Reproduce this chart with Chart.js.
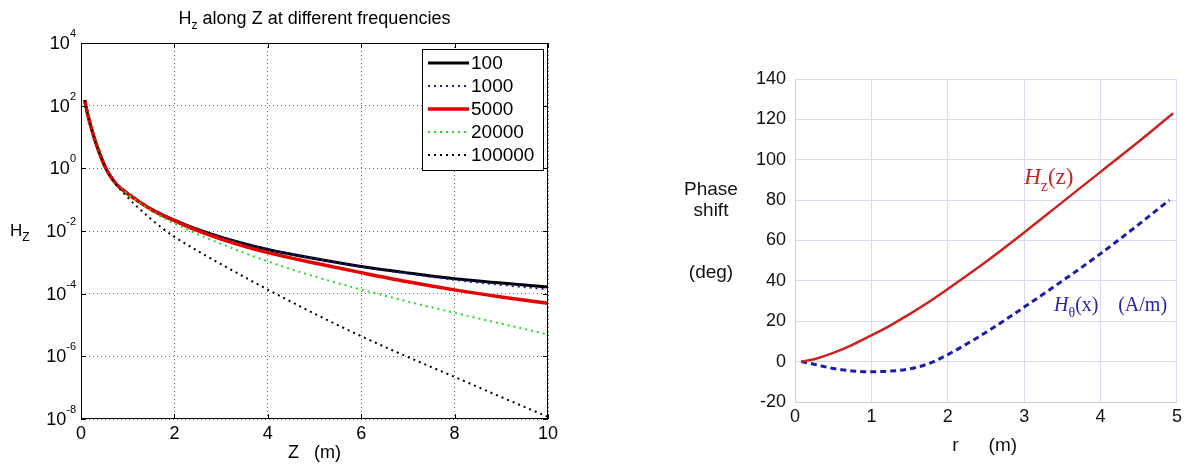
<!DOCTYPE html>
<html>
<head>
<meta charset="utf-8">
<script src="https://cdn.jsdelivr.net/npm/chart.js@4.4.1/dist/chart.umd.min.js"></script>
<style>
  html, body { margin: 0; padding: 0; background: #fff; }
  #wrap { position: relative; width: 1186px; height: 465px; overflow: hidden; }
  .pane { position: absolute; top: 0; height: 465px; }
  #leftPane { left: 0; width: 600px; }
  #rightPane { left: 593px; width: 593px; }
</style>
</head>
<body>
<div id="wrap">
  <div class="pane" id="leftPane"><canvas id="hzChart"></canvas></div>
  <div class="pane" id="rightPane"><canvas id="phaseChart"></canvas></div>
</div>
<script>
/* ── Hz along Z (log scale), one curve per frequency ── */
const zPos = [0.08, 0.1, 0.15, 0.2, 0.3, 0.4, 0.5, 0.6, 0.7, 0.8, 1.0, 1.25, 1.5, 1.75, 2, 2.5, 3, 3.5, 4, 5, 6, 7, 8, 9, 10];
const hzF100    = [150, 105, 48, 25, 7.8, 2.95, 1.26, 0.66, 0.40, 0.27, 0.155, 0.085, 0.050, 0.0324, 0.0224, 0.0112, 6.3e-3, 3.9e-3, 2.57e-3, 1.32e-3, 7.4e-4, 4.6e-4, 3.0e-4, 2.2e-4, 1.62e-4];
const hzF1000   = [150, 105, 48, 25, 7.8, 2.95, 1.26, 0.66, 0.40, 0.27, 0.155, 0.085, 0.050, 0.0324, 0.0224, 0.0112, 6.3e-3, 3.9e-3, 2.57e-3, 1.32e-3, 7.2e-4, 4.4e-4, 2.75e-4, 1.9e-4, 1.38e-4];
const hzF5000   = [150, 105, 48, 25, 7.8, 2.95, 1.26, 0.66, 0.40, 0.27, 0.155, 0.085, 0.049, 0.0316, 0.0214, 0.0102, 5.5e-3, 3.24e-3, 2.04e-3, 9.5e-4, 4.7e-4, 2.4e-4, 1.32e-4, 7.8e-5, 4.9e-5];
const hzF20000  = [150, 105, 48, 25, 7.8, 2.95, 1.26, 0.66, 0.40, 0.27, 0.151, 0.079, 0.0447, 0.0269, 0.0174, 7.9e-3, 3.9e-3, 2.0e-3, 1.07e-3, 3.55e-4, 1.35e-4, 5.6e-5, 2.45e-5, 1.1e-5, 5.0e-6];
const hzF100000 = [150, 105, 48, 25, 7.8, 2.95, 1.26, 0.64, 0.385, 0.25, 0.118, 0.051, 0.024, 0.012, 6.5e-3, 2.3e-3, 8.7e-4, 3.4e-4, 1.35e-4, 2.3e-5, 4.4e-6, 9.5e-7, 2.2e-7, 5.0e-8, 1.17e-8];
const freqLabels = ['100', '1000', '5000', '20000', '100000'];
const hzExponents = [-8, -6, -4, -2, 0, 2, 4];
const zTicks = [0, 2, 4, 6, 8, 10];

/* ── phase shift vs r ── */
const rHz = [0.08, 0.25, 0.5, 0.75, 1, 1.25, 1.5, 1.75, 2, 2.5, 3, 3.5, 4, 4.5, 4.95];
const phaseHz = [0, 1.2, 4.3, 8.3, 13, 18, 23.5, 29.5, 36, 49.5, 64, 79, 94, 109, 123];
const rHtheta = [0.08, 0.25, 0.5, 0.75, 1, 1.25, 1.5, 1.75, 2, 2.5, 3, 3.5, 4, 4.5, 4.9];
const phaseHtheta = [0, -1.3, -3.4, -4.6, -5, -4.7, -3.6, -1, 3.5, 14.5, 27, 40, 53.5, 68, 80];

const SANS = "'Liberation Sans', Arial, sans-serif";
const SERIF = "'Liberation Serif', 'Times New Roman', serif";

const pts = (xs, ys) => xs.map((x, i) => ({ x, y: ys[i] }));

// text with a subscript: main, sub, rest
function subText(ctx, x, y, main, sub, rest, size, mainFont, restFont) {
  ctx.textAlign = 'left';
  ctx.textBaseline = 'alphabetic';
  ctx.font = mainFont;
  ctx.fillText(main, x, y);
  x += ctx.measureText(main).width;
  ctx.font = restFont.replace(/[\d.]+px/, Math.round(size * 0.68) + 'px');
  ctx.fillText(sub, x, y + size * 0.3);
  x += ctx.measureText(sub).width;
  ctx.font = restFont;
  ctx.fillText(rest, x, y);
  return x + ctx.measureText(rest).width;
}

// ─── LEFT CHART DECORATIONS (matlab style) ───
const matlabDeco = {
  id: 'matlabDeco',
  afterDraw(chart) {
    const { ctx, chartArea: a, scales: { x, y } } = chart;
    ctx.save();

    // frame + inward ticks
    ctx.strokeStyle = '#000';
    ctx.lineWidth = 1;
    ctx.strokeRect(a.left + 0.5, a.top + 0.5, a.right - a.left - 1, a.bottom - a.top - 1);
    ctx.beginPath();
    zTicks.forEach(v => {
      const px = Math.round(x.getPixelForValue(v)) + 0.5;
      ctx.moveTo(px, a.bottom); ctx.lineTo(px, a.bottom - 5);
      ctx.moveTo(px, a.top); ctx.lineTo(px, a.top + 5);
    });
    hzExponents.forEach(e => {
      const py = Math.round(y.getPixelForValue(Math.pow(10, e))) + 0.5;
      ctx.moveTo(a.left, py); ctx.lineTo(a.left + 5, py);
      ctx.moveTo(a.right, py); ctx.lineTo(a.right - 5, py);
    });
    ctx.stroke();

    // y tick labels 10^n
    ctx.fillStyle = '#000';
    hzExponents.forEach(e => {
      const py = y.getPixelForValue(Math.pow(10, e));
      const ex = e < 0 ? '-' + Math.abs(e) : String(e);
      ctx.font = `11px ${SANS}`;
      const ew = ctx.measureText(ex).width;
      const x0 = a.left - 5 - ew;
      ctx.textAlign = 'left';
      ctx.textBaseline = 'middle';
      ctx.fillText(ex, x0, py - 9);
      ctx.font = `18px ${SANS}`;
      ctx.textAlign = 'right';
      ctx.fillText('10', x0, py + 1);
    });

    // title
    ctx.font = `18px ${SANS}`;
    const rest = ' along Z at different frequencies';
    const wMain = ctx.measureText('H').width + ctx.measureText(rest).width;
    ctx.font = `12px ${SANS}`;
    const wSub = ctx.measureText('z').width;
    const tx = (a.left + a.right) / 2 - (wMain + wSub) / 2;
    subText(ctx, tx, 24, 'H', 'z', rest, 18, `18px ${SANS}`, `18px ${SANS}`);

    // y axis label
    subText(ctx, 10, 236, 'H', 'Z', '', 17, `17px ${SANS}`, `17px ${SANS}`);

    // legend
    const lx = 422, ly = 49, lw = 121, lh = 121;
    ctx.fillStyle = '#fff';
    ctx.fillRect(lx, ly, lw, lh);
    ctx.strokeStyle = '#000';
    ctx.lineWidth = 1;
    ctx.strokeRect(lx + 0.5, ly + 0.5, lw, lh);
    chart.data.datasets.forEach((ds, i) => {
      const ry = ly + 14 + i * 23;
      ctx.save();
      ctx.strokeStyle = ds.borderColor;
      ctx.lineWidth = ds.borderWidth;
      ctx.setLineDash(ds.borderDash || []);
      ctx.beginPath();
      ctx.moveTo(lx + 6, ry);
      ctx.lineTo(lx + 47, ry);
      ctx.stroke();
      ctx.restore();
      ctx.fillStyle = '#000';
      ctx.font = `19px ${SANS}`;
      ctx.textAlign = 'left';
      ctx.textBaseline = 'middle';
      ctx.fillText(ds.label, lx + 49, ry + 1);
    });
    ctx.restore();
  }
};

const dotted = [2, 4];
new Chart(document.getElementById('hzChart'), {
  type: 'line',
  data: {
    datasets: [
      { label: freqLabels[0], data: pts(zPos, hzF100),    borderColor: '#000000', borderWidth: 3,   borderDash: [], order: 5 },
      { label: freqLabels[1], data: pts(zPos, hzF1000),   borderColor: '#1a1aa8', borderWidth: 2,   borderDash: dotted, order: 4 },
      { label: freqLabels[2], data: pts(zPos, hzF5000),   borderColor: '#e80000', borderWidth: 3.5, borderDash: [], order: 3 },
      { label: freqLabels[3], data: pts(zPos, hzF20000),  borderColor: '#22dd22', borderWidth: 2,   borderDash: dotted, order: 2 },
      { label: freqLabels[4], data: pts(zPos, hzF100000), borderColor: '#000000', borderWidth: 2,   borderDash: dotted, order: 1 }
    ]
  },
  options: {
    responsive: true,
    maintainAspectRatio: false,
    animation: false,
    layout: { padding: { top: 43, right: 52, bottom: 1, left: 0 } },
    elements: { point: { radius: 0 }, line: { cubicInterpolationMode: 'monotone', fill: false } },
    plugins: { legend: { display: false }, tooltip: { enabled: false } },
    scales: {
      x: {
        type: 'linear',
        min: 0, max: 10,
        afterBuildTicks: s => { s.ticks = zTicks.map(v => ({ value: v })); },
        afterFit: s => { s.height = 45; },
        grid: { color: 'rgba(0,0,0,0.6)', drawTicks: false },
        border: { display: false, dash: [1, 3] },
        ticks: { color: '#000', font: { family: SANS, size: 18 }, padding: 4 },
        title: { display: true, text: 'Z   (m)', color: '#000', font: { family: SANS, size: 18 }, padding: { top: 0, bottom: 0 } }
      },
      y: {
        type: 'logarithmic',
        min: 1e-8, max: 1e4,
        afterBuildTicks: s => { s.ticks = hzExponents.map(e => ({ value: Math.pow(10, e) })); },
        afterFit: s => { s.width = 81; },
        grid: { color: 'rgba(0,0,0,0.6)', drawTicks: false },
        border: { display: false, dash: [1, 3] },
        ticks: { display: false }
      }
    }
  },
  plugins: [matlabDeco]
});

// ─── RIGHT CHART LABELS ───
const phaseDeco = {
  id: 'phaseDeco',
  afterDraw(chart) {
    const { ctx, scales: { x, y } } = chart;
    ctx.save();
    ctx.fillStyle = '#111';
    ctx.font = `19px ${SANS}`;
    ctx.textAlign = 'center';
    ctx.textBaseline = 'middle';
    ctx.fillText('Phase', 118, 190);
    ctx.fillText('shift', 118, 211);
    ctx.fillText('(deg)', 118, 273);
    ctx.fillText('r', x.getPixelForValue(2.1), 446);
    ctx.fillText('(m)', x.getPixelForValue(2.72), 446);

    // curve annotations
    ctx.fillStyle = '#c0282a';
    subText(ctx, x.getPixelForValue(3.0), y.getPixelForValue(92) + 8, 'H', 'z', '(z)', 23,
      `italic 23px ${SERIF}`, `23px ${SERIF}`);
    ctx.fillStyle = '#2424b0';
    subText(ctx, x.getPixelForValue(3.39), y.getPixelForValue(28.7) + 7, 'H', 'θ', '(x)', 20,
      `italic 20px ${SERIF}`, `20px ${SERIF}`);
    ctx.font = `20px ${SERIF}`;
    ctx.textAlign = 'left';
    ctx.fillText('(A/m)', x.getPixelForValue(4.23), y.getPixelForValue(28.7) + 7);
    ctx.restore();
  }
};

new Chart(document.getElementById('phaseChart'), {
  type: 'line',
  data: {
    datasets: [
      { label: 'Hz(z)', data: pts(rHz, phaseHz), borderColor: '#cc2222', borderWidth: 2.5, borderDash: [] },
      { label: 'Hθ(x)', data: pts(rHtheta, phaseHtheta), borderColor: '#1c1caa', borderWidth: 3, borderDash: [6, 4] }
    ]
  },
  options: {
    responsive: true,
    maintainAspectRatio: false,
    animation: false,
    layout: { padding: { top: 79, right: 8, bottom: 0, left: 0 } },
    elements: { point: { radius: 0 }, line: { cubicInterpolationMode: 'monotone', fill: false } },
    plugins: { legend: { display: false }, tooltip: { enabled: false } },
    scales: {
      x: {
        type: 'linear',
        min: 0, max: 5,
        ticks: { stepSize: 1, color: '#111', font: { family: SANS, size: 18 }, padding: 4 },
        afterFit: s => { s.height = 63; },
        grid: { color: '#d8dbef', drawTicks: false },
        border: { color: '#c9cde6' }
      },
      y: {
        type: 'linear',
        min: -20, max: 140,
        position: 'left',
        ticks: { stepSize: 20, color: '#111', font: { family: SANS, size: 18 }, padding: 9 },
        afterFit: s => { s.width = 202; },
        grid: { color: '#d8dbef', drawTicks: false },
        border: { color: '#c9cde6' }
      },
      x2: {
        type: 'linear', position: 'top', min: 0, max: 5,
        ticks: { display: false }, grid: { display: false },
        border: { color: '#d8dbef' }, afterFit: s => { s.height = 0; }
      },
      y2: {
        type: 'linear', position: 'right', min: -20, max: 140,
        ticks: { display: false }, grid: { display: false },
        border: { color: '#d8dbef' }, afterFit: s => { s.width = 0; }
      }
    }
  },
  plugins: [phaseDeco]
});
</script>
</body>
</html>
